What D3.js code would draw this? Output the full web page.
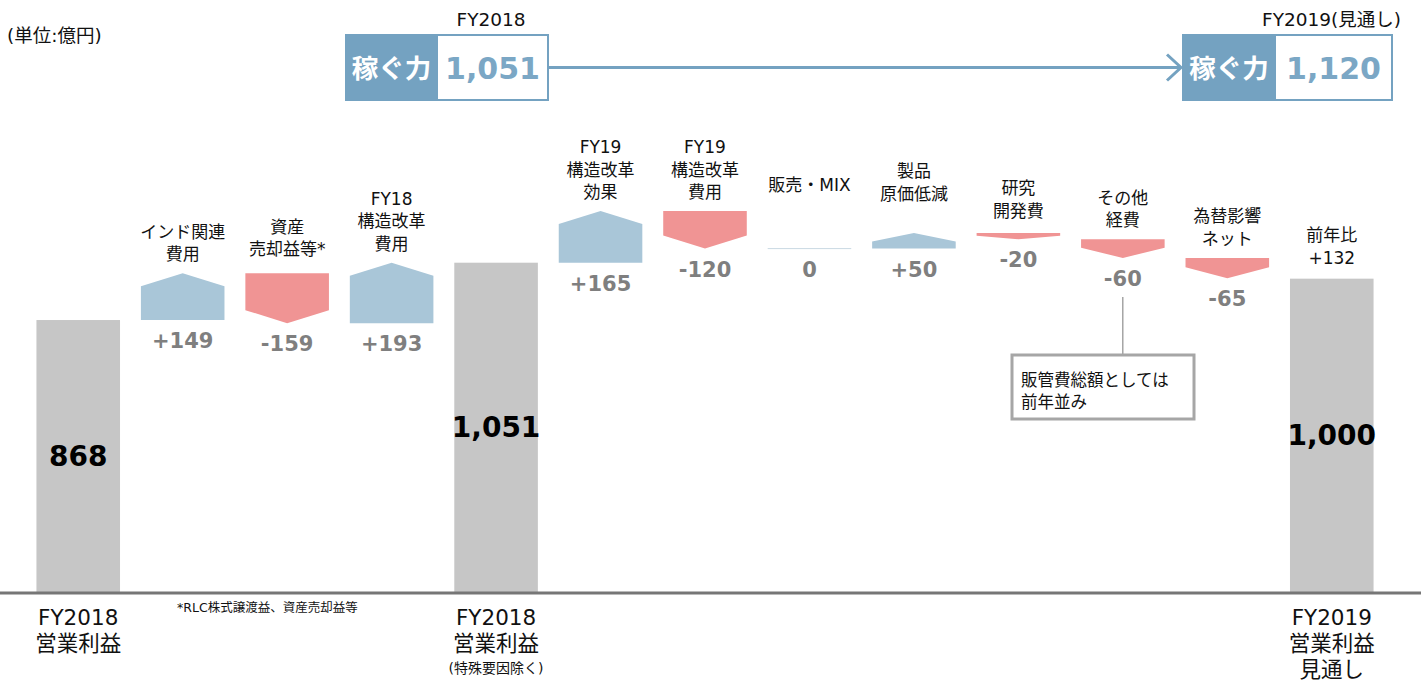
<!DOCTYPE html>
<html>
<head>
<meta charset="utf-8">
<script src="https://cdn.jsdelivr.net/npm/d3@7/dist/d3.min.js"></script>
<style>
  html, body { margin: 0; padding: 0; background: #fff; }
  svg { display: block; font-family: "DejaVu Sans", "Noto Sans CJK JP", sans-serif; }
</style>
</head>
<body>
<svg id="chart" width="1421" height="682"></svg>
<script>
// 営業利益の増減要因 (単位: 億円)
const steps = ["start", "india", "asset", "fy18cost", "sub", "fy19effect", "fy19cost", "sales", "product", "rnd", "other", "fx", "end"];
const kinds = ["total", "delta", "delta", "delta", "total", "delta", "delta", "delta", "delta", "delta", "delta", "delta", "total"];
const values = [868, 149, -159, 193, 1051, 165, -120, 0, 50, -20, -60, -65, 1000];
const topLabels = [
  [], ["インド関連", "費用"], ["資産", "売却益等*"], ["FY18", "構造改革", "費用"], [],
  ["FY19", "構造改革", "効果"], ["FY19", "構造改革", "費用"], ["販売・MIX"], ["製品", "原価低減"],
  ["研究", "開発費"], ["その他", "経費"], ["為替影響", "ネット"], ["前年比", "+132"]
];
const bottomLabels = [
  ["FY2018", "営業利益"], [], [], [], ["FY2018", "営業利益", "(特殊要因除く)"],
  [], [], [], [], [], [], [], ["FY2019", "営業利益", "見通し"]
];
const powerYears = ["FY2018", "FY2019(見通し)"];
const powerValues = [1051, 1120];
const powerTitle = "稼ぐ力";
const noteText = "*RLC株式譲渡益、資産売却益等";
const unitText = "(単位:億円)";
const calloutLines = ["販管費総額としては", "前年並み"];

const BLUE = "#a9c6d8", RED = "#f09494", GREY = "#c6c6c6", DARK = "#74a2c1";

const svg = d3.select("#chart");
const baseY = 592;

// 累積値を計算
let run = 0;
const rows = steps.map((k, i) => {
  let from, to;
  if (kinds[i] === "total") { from = 0; to = values[i]; run = values[i]; }
  else { from = run; to = run + values[i]; run = to; }
  return { key: k, kind: kinds[i], value: values[i], from, to, top: topLabels[i], bottom: bottomLabels[i] };
});

const x = d3.scaleBand().domain(steps).range([26, 1384]).paddingInner(0.2).paddingOuter(0.1);
const y = d3.scaleLinear().domain([0, d3.max(rows, d => Math.max(d.from, d.to))]).range([baseY, 211]);

const fmtTotal = d3.format(",");
const fmtDelta = v => v > 0 ? "+" + v : String(v);

// ラベル位置の調整 (元資料の配置に合わせる)
const labelGap = { sales: 58, product: 33, rnd: 16, end: 15, asset: 18 };

// 合計バー
svg.selectAll("rect.total").data(rows.filter(d => d.kind === "total")).join("rect")
  .attr("class", "total")
  .attr("x", d => x(d.key)).attr("width", x.bandwidth())
  .attr("y", d => y(d.to)).attr("height", d => y(0) - y(d.to))
  .attr("fill", GREY);

svg.selectAll("text.totalVal").data(rows.filter(d => d.kind === "total")).join("text")
  .attr("class", "totalVal")
  .attr("x", d => x(d.key) + x.bandwidth() / 2)
  .attr("y", d => (y(d.to) + y(0)) / 2 + 10)
  .attr("text-anchor", "middle")
  .style("font-size", "28px").style("font-weight", "bold").attr("fill", "#000")
  .text(d => fmtTotal(d.value));

// 増減の矢印形
function arrowPath(d) {
  const x0 = x(d.key), x1 = x0 + x.bandwidth(), xc = (x0 + x1) / 2;
  const ya = y(d.from), yb = y(d.to);
  const h = Math.abs(ya - yb);
  const head = Math.min(13, h * 0.55);
  if (d.value >= 0) {
    return `M${x0},${ya}L${x0},${yb + head}L${xc},${yb}L${x1},${yb + head}L${x1},${ya}Z`;
  }
  return `M${x0},${ya}L${x1},${ya}L${x1},${yb - head}L${xc},${yb}L${x0},${yb - head}Z`;
}

const deltas = rows.filter(d => d.kind === "delta");
svg.selectAll("path.delta").data(deltas.filter(d => d.value !== 0)).join("path")
  .attr("class", "delta")
  .attr("d", arrowPath)
  .attr("fill", d => d.value > 0 ? BLUE : RED);

svg.selectAll("line.zero").data(deltas.filter(d => d.value === 0)).join("line")
  .attr("class", "zero")
  .attr("x1", d => x(d.key)).attr("x2", d => x(d.key) + x.bandwidth())
  .attr("y1", d => y(d.to)).attr("y2", d => y(d.to))
  .attr("stroke", "#c9d9e3").attr("stroke-width", 1);

svg.selectAll("text.deltaVal").data(deltas).join("text")
  .attr("class", "deltaVal")
  .attr("x", d => x(d.key) + x.bandwidth() / 2)
  .attr("y", d => Math.max(y(d.from), y(d.to)) + 28)
  .attr("text-anchor", "middle")
  .style("font-size", "21px").style("font-weight", "bold").attr("fill", "#7f7f7f")
  .text(d => fmtDelta(d.value));

// 上側ラベル
rows.forEach(d => {
  if (!d.top.length) return;
  const topY = Math.min(y(d.from), y(d.to));
  const last = topY - (labelGap[d.key] || 13);
  const t = svg.append("text")
    .attr("text-anchor", "middle")
    .style("font-size", "17px").attr("fill", "#111");
  d.top.forEach((s, j) => {
    t.append("tspan")
      .attr("x", x(d.key) + x.bandwidth() / 2)
      .attr("y", last - (d.top.length - 1 - j) * 22.5)
      .text(s);
  });
});

// 軸線
svg.append("line")
  .attr("x1", 0).attr("x2", 1421).attr("y1", baseY + 1).attr("y2", baseY + 1)
  .attr("stroke", "#767676").attr("stroke-width", 3);

// 下側ラベル
rows.forEach(d => {
  if (!d.bottom.length) return;
  d.bottom.forEach((s, j) => {
    const small = s.startsWith("(");
    svg.append("text")
      .attr("x", x(d.key) + x.bandwidth() / 2)
      .attr("y", 625 + j * 26 - (small ? 4 : 0))
      .attr("text-anchor", "middle")
      .style("font-size", small ? "14px" : "21.5px").attr("fill", "#111")
      .text(s);
  });
});

svg.append("text").attr("x", 177).attr("y", 612)
  .style("font-size", "12.5px").attr("fill", "#111").text(noteText);

svg.append("text").attr("x", 7).attr("y", 42)
  .style("font-size", "18.5px").attr("fill", "#111").text(unitText);

// 吹き出し (その他経費)
const oc = x("other") + x.bandwidth() / 2;
svg.append("line").attr("x1", oc).attr("x2", oc).attr("y1", 297).attr("y2", 355)
  .attr("stroke", "#777").attr("stroke-width", 1);
svg.append("rect").attr("x", 1012).attr("y", 355).attr("width", 182).attr("height", 64)
  .attr("fill", "#fff").attr("stroke", "#a6a6a6").attr("stroke-width", 3);
calloutLines.forEach((s, j) => {
  svg.append("text").attr("x", 1021).attr("y", 386 + j * 22)
    .style("font-size", "16.5px").attr("fill", "#111").text(s);
});

// 稼ぐ力ボックス
const boxes = [
  { x: 346, wDark: 91, wLight: 111, year: powerYears[0], value: powerValues[0], anchorX: 491, anchor: "middle" },
  { x: 1183, wDark: 92, wLight: 117, year: powerYears[1], value: powerValues[1], anchorX: 1401, anchor: "end" }
];
const boxY = 35, boxH = 65;
boxes.forEach(b => {
  svg.append("rect").attr("x", b.x).attr("y", boxY).attr("width", b.wDark + b.wLight).attr("height", boxH)
    .attr("fill", "#fff").attr("stroke", DARK).attr("stroke-width", 2);
  svg.append("rect").attr("x", b.x).attr("y", boxY).attr("width", b.wDark).attr("height", boxH)
    .attr("fill", DARK).attr("stroke", DARK).attr("stroke-width", 2);
  svg.append("text").attr("x", b.x + b.wDark / 2).attr("y", boxY + boxH / 2 + 10)
    .attr("text-anchor", "middle").style("font-size", "26.5px").style("font-weight", "bold")
    .attr("fill", "#fff").text(powerTitle);
  svg.append("text").attr("x", b.x + b.wDark + b.wLight / 2).attr("y", boxY + boxH / 2 + 11)
    .attr("text-anchor", "middle").style("font-size", "30px").style("font-weight", "bold")
    .attr("fill", "#7ba7c5").text(fmtTotal(b.value));
  svg.append("text").attr("x", b.anchorX).attr("y", 26)
    .attr("text-anchor", b.anchor).style("font-size", "18.5px").attr("fill", "#111").text(b.year);
});

// 矢印
const ay = boxY + boxH / 2;
svg.append("line").attr("x1", 549).attr("x2", 1180).attr("y1", ay).attr("y2", ay)
  .attr("stroke", DARK).attr("stroke-width", 3);
svg.append("path").attr("d", `M${1167},${ay - 13}L${1181},${ay}L${1167},${ay + 13}`)
  .attr("fill", "none").attr("stroke", DARK).attr("stroke-width", 3);
</script>
</body>
</html>
